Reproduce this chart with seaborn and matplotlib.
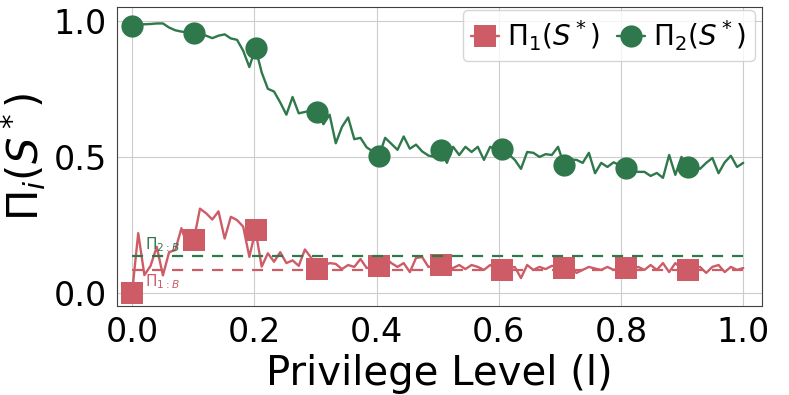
import numpy as np
import matplotlib
matplotlib.use("Agg")
import matplotlib.pyplot as plt
import seaborn as sns

# privilege levels (100 steps from 0 to 1)
levels = np.linspace(0, 1, 100)

pi1 = [0.0, 0.22, 0.066, 0.1, 0.17, 0.065, 0.15, 0.158, 0.238, 0.17,
       0.195, 0.31, 0.293, 0.27, 0.3, 0.2, 0.28, 0.268, 0.244, 0.133,
       0.23, 0.097, 0.146, 0.115, 0.15, 0.11, 0.12, 0.1, 0.16, 0.13,
       0.088, 0.1, 0.11, 0.107, 0.088, 0.103, 0.096, 0.125, 0.092, 0.095,
       0.1, 0.129, 0.11, 0.096, 0.11, 0.077, 0.129, 0.132, 0.096, 0.1,
       0.103, 0.095, 0.092, 0.103, 0.088, 0.103, 0.096, 0.085, 0.103, 0.09,
       0.085, 0.09, 0.096, 0.055, 0.103, 0.085, 0.096, 0.088, 0.1, 0.095,
       0.092, 0.09, 0.074, 0.085, 0.096, 0.09, 0.085, 0.096, 0.085, 0.09,
       0.092, 0.09, 0.096, 0.085, 0.103, 0.085, 0.11, 0.077, 0.11, 0.09,
       0.085, 0.09, 0.096, 0.074, 0.096, 0.103, 0.077, 0.096, 0.085, 0.092]

pi2 = [0.98, 0.985, 0.987, 0.988, 0.99, 0.99, 0.975, 0.965, 0.96, 0.958,
       0.956, 0.95, 0.945, 0.936, 0.945, 0.95, 0.935, 0.93, 0.89, 0.83,
       0.90, 0.81, 0.75, 0.74, 0.70, 0.655, 0.72, 0.66, 0.665, 0.67,
       0.665, 0.62, 0.655, 0.55, 0.61, 0.645, 0.565, 0.57, 0.535, 0.52,
       0.504, 0.57, 0.548, 0.526, 0.575, 0.53, 0.545, 0.52, 0.505, 0.5,
       0.526, 0.478, 0.537, 0.507, 0.537, 0.518, 0.537, 0.489, 0.537, 0.526,
       0.53, 0.51, 0.489, 0.456, 0.518, 0.515, 0.5, 0.51, 0.507, 0.537,
       0.47, 0.49, 0.489, 0.478, 0.515, 0.44, 0.478, 0.463, 0.48, 0.47,
       0.46, 0.45, 0.445, 0.445, 0.43, 0.441, 0.423, 0.507, 0.434, 0.5,
       0.463, 0.47, 0.456, 0.478, 0.496, 0.44, 0.48, 0.504, 0.463, 0.478]

# baselines
pi1_base = 0.085
pi2_base = 0.136

red = "#CD5C66"
green = "#2E784B"

sns.set_style("whitegrid")
plt.rcParams.update({"text.color": "black", "axes.labelcolor": "black",
                     "xtick.color": "black", "ytick.color": "black"})

fig, ax = plt.subplots(figsize=(7.89, 3.95), dpi=100)
fig.subplots_adjust(left=0.148, right=0.966, top=0.982, bottom=0.225)

sns.lineplot(x=levels, y=pi1, ax=ax, color=red, lw=1.7, marker="s",
             markersize=16, markevery=10, markeredgewidth=0,
             label=r"$\Pi_1(S^*)$")
sns.lineplot(x=levels, y=pi2, ax=ax, color=green, lw=1.7, marker="o",
             markersize=16, markevery=10, markeredgewidth=0,
             label=r"$\Pi_2(S^*)$")

ax.plot([0, 1], [pi2_base, pi2_base], color=green, lw=1.6, dashes=(5, 4))
ax.plot([0, 1], [pi1_base, pi1_base], color=red, lw=1.6, dashes=(5, 4))
ax.text(0.022, 0.142, r"$\Pi_{2:B}$", color=green, fontsize=11, va="bottom")
ax.text(0.022, 0.075, r"$\Pi_{1:B}$", color=red, fontsize=11, va="top")

ax.set_xlim(-0.025, 1.031)
ax.set_ylim(-0.048, 1.05)
ax.set_xticks([0, 0.2, 0.4, 0.6, 0.8, 1.0])
ax.set_yticks([0, 0.5, 1.0])
ax.tick_params(labelsize=24)
ax.set_xlabel("Privilege Level (l)", fontsize=29)
ax.set_ylabel(r"$\Pi_i(S^*)$", fontsize=30)
for s in ax.spines.values():
    s.set_color("0.25")

ax.legend(loc="upper right", ncol=2, fontsize=20, handlelength=1.0,
          columnspacing=0.6, handletextpad=0.3, borderaxespad=0.1,
          borderpad=0.3, bbox_to_anchor=(0.993, 1.0))

fig.savefig("out.png", dpi=100)
